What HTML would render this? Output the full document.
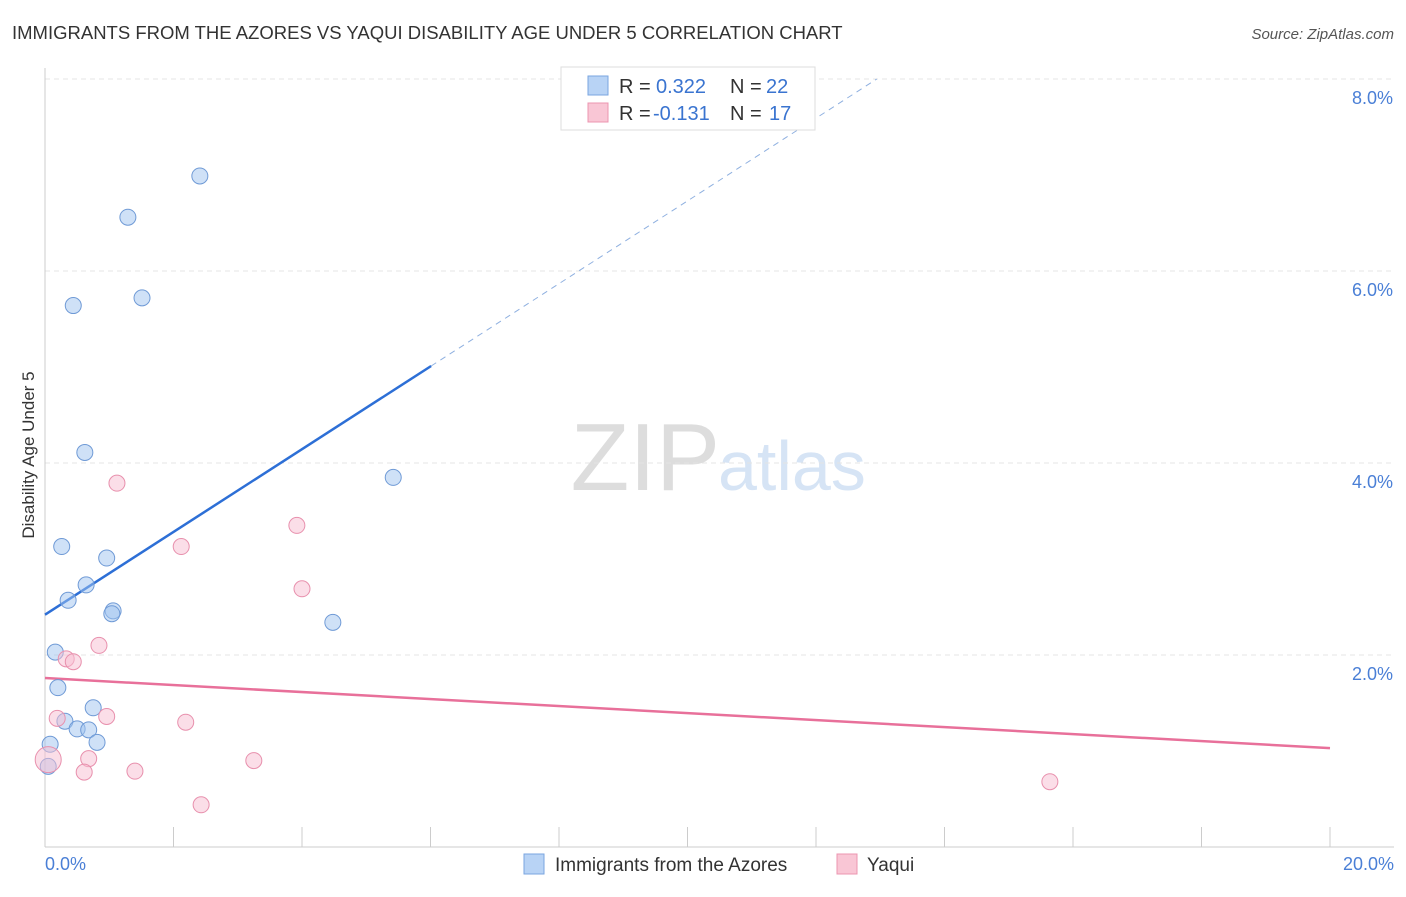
<!DOCTYPE html>
<html><head><meta charset="utf-8"><style>
body{margin:0;background:#fff;font-family:"Liberation Sans",sans-serif;}
svg text{font-family:"Liberation Sans",sans-serif;}
</style></head><body>
<svg id="chart" width="1406" height="892" xmlns="http://www.w3.org/2000/svg">
<text x="12" y="39" font-size="18.5" fill="#333">IMMIGRANTS FROM THE AZORES VS YAQUI DISABILITY AGE UNDER 5 CORRELATION CHART</text>
<text x="1394" y="39" font-size="15" fill="#555" text-anchor="end" font-style="italic">Source: ZipAtlas.com</text>
<text transform="translate(34,455) rotate(-90)" font-size="17" fill="#333" text-anchor="middle">Disability Age Under 5</text>
<text x="720" y="490" font-size="96" fill="#ddd" text-anchor="end" font-family="Liberation Serif">ZIP</text>
<text x="718" y="490" font-size="70" fill="#d6e4f5">atlas</text>
<g id="grid"></g><g id="lines"></g><g id="pts"></g>
<g>
<rect x="561" y="67" width="254" height="63" fill="#fff" stroke="#ddd"/>
<rect x="588" y="76" width="20" height="19" fill="#b8d3f5" stroke="#7aa6e0"/>
<rect x="588" y="103" width="20" height="19" fill="#f9c6d5" stroke="#ec95b0"/>
<text x="619" y="93" font-size="20" fill="#333">R =</text>
<text x="656" y="93" font-size="20" fill="#3a74d0">0.322</text>
<text x="730" y="93" font-size="20" fill="#333">N =</text>
<text x="766" y="93" font-size="20" fill="#3a74d0">22</text>
<text x="619" y="120" font-size="20" fill="#333">R =</text>
<text x="653" y="120" font-size="20" fill="#3a74d0">-0.131</text>
<text x="730" y="120" font-size="20" fill="#333">N =</text>
<text x="769" y="120" font-size="20" fill="#3a74d0">17</text>
</g>
<g>
<rect x="524" y="854" width="20" height="20" fill="#b8d3f5" stroke="#7aa6e0"/>
<text x="555" y="871" font-size="19" fill="#333">Immigrants from the Azores</text>
<rect x="837" y="854" width="20" height="20" fill="#f9c6d5" stroke="#ec95b0"/>
<text x="867" y="871" font-size="19" fill="#333">Yaqui</text>
</g>
</svg>
<script>
const xTicks=[0,2,4,6,8,10,12,14,16,18,20];
const yTicks=[2,4,6,8];
const blueX=[2.41,1.29,0.44,1.51,0.62,5.42,0.26,0.96,0.64,0.36,1.06,1.04,4.48,0.16,0.20,0.75,0.31,0.50,0.68,0.81,0.08,0.05];
const blueY=[6.99,6.56,5.64,5.72,4.11,3.85,3.13,3.01,2.73,2.57,2.46,2.43,2.34,2.03,1.66,1.45,1.31,1.23,1.22,1.09,1.07,0.84];
const pinkX=[1.12,3.92,2.12,4.00,0.84,0.33,0.44,0.19,0.96,2.19,0.68,3.25,0.05,0.61,1.40,2.43,15.64];
const pinkY=[3.79,3.35,3.13,2.69,2.10,1.96,1.93,1.34,1.36,1.30,0.92,0.90,0.91,0.78,0.79,0.44,0.68];
const blueTrend=[2.42,0.431];
const pinkTrend=[1.76,-0.0365];
const X=v=>45+v/20*1285, Y=v=>847-v*96;
const NS="http://www.w3.org/2000/svg";
function mk(p,t,a){const e=document.createElementNS(NS,t);for(const k in a)e.setAttribute(k,a[k]);p.appendChild(e);return e;}
const g=document.getElementById('grid'),l=document.getElementById('lines'),p=document.getElementById('pts');
yTicks.forEach(t=>{
const ln=mk(g,'line',{x1:45,x2:1394,y1:Y(t),y2:Y(t),stroke:'#e4e4e4','stroke-dasharray':'5,4'});


const tx=mk(g,'text',{x:1393,y:Y(t)+25,'font-size':18,fill:'#4a7fd6','text-anchor':'end'});tx.textContent=t.toFixed(1)+'%';


});
const ax=mk(g,'line',{x1:45,x2:1394,y1:847,y2:847,stroke:'#ccc'});


const ay=mk(g,'line',{x1:45,x2:45,y1:68,y2:847,stroke:'#ccc'});


xTicks.forEach(t=>{
const tk=mk(g,'line',{x1:X(t),x2:X(t),y1:827,y2:847,stroke:'#ccc'});


});
[[0,'start',45],[20,'end',1394]].forEach(([t,a,x])=>{
const tx=mk(g,'text',{x:x,y:870,'font-size':18,fill:'#4a7fd6','text-anchor':a});tx.textContent=t.toFixed(1)+'%';


});
let b=mk(l,'line',{x1:X(0),y1:Y(blueTrend[0]),x2:X(6.01),y2:Y(blueTrend[0]+blueTrend[1]*6.01),stroke:'#2d6fd6','stroke-width':2.5});


const xe=(8.0-blueTrend[0])/blueTrend[1];
b=mk(l,'line',{x1:X(6.01),y1:Y(blueTrend[0]+blueTrend[1]*6.01),x2:X(xe),y2:Y(8.0),stroke:'#8fb0e0','stroke-width':1,'stroke-dasharray':'6,5'});


b=mk(l,'line',{x1:X(0),y1:Y(pinkTrend[0]),x2:X(20),y2:Y(pinkTrend[0]+pinkTrend[1]*20),stroke:'#e8709a','stroke-width':2.5});


blueX.forEach((v,i)=>{
const c=mk(p,'circle',{cx:X(v),cy:Y(blueY[i]),r:8,fill:'rgba(160,195,240,0.5)',stroke:'#6f9ad6','stroke-width':1});


});
pinkX.forEach((v,i)=>{
const c=mk(p,'circle',{cx:X(v),cy:Y(pinkY[i]),r:i==12?13:8,fill:'rgba(248,190,210,0.5)',stroke:'#e890ad','stroke-width':1});


});
</script>
</body></html>
